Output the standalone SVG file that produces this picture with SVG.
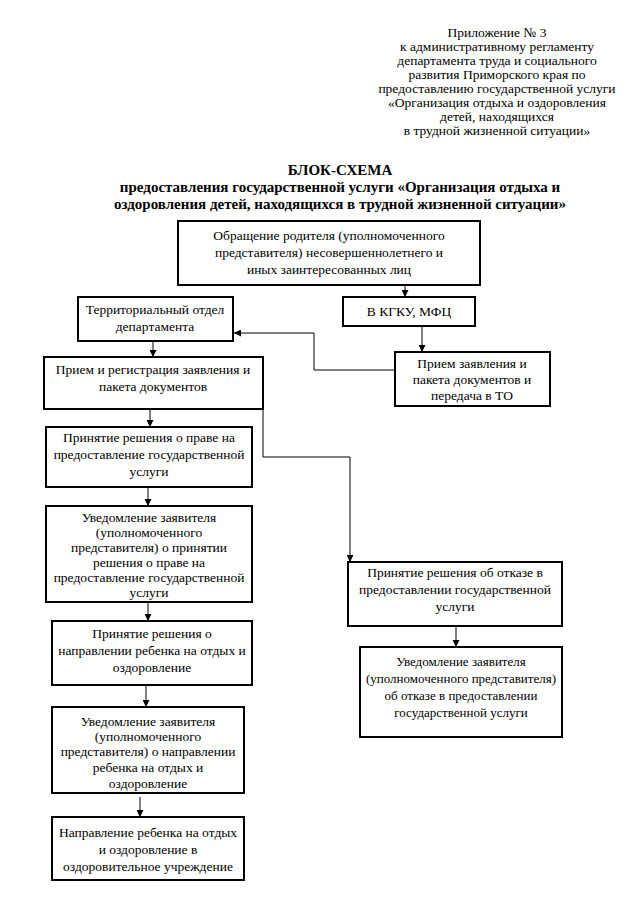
<svg xmlns="http://www.w3.org/2000/svg" width="640" height="905" viewBox="0 0 640 905">
<defs>
<style>
text{fill:#000;text-anchor:middle}
.h{font-size:13.5px}
.t{font-size:15px;font-weight:bold}
.b{font-size:13.5px}
.s{font-size:13px}
.box{fill:#fff;stroke:#000;stroke-width:2}
.c{fill:none;stroke:#000;stroke-width:1}
</style>
<marker id="ar" viewBox="0 0 10 10" refX="10" refY="5" markerWidth="7" markerHeight="7" markerUnits="userSpaceOnUse" orient="auto"><path d="M0,0 L10,5 L0,10 z" fill="#000"/></marker>
</defs>
<rect width="640" height="905" fill="#fff"/>
<g font-family="Liberation Serif, DejaVu Serif, serif">
<g id="header">
<text class="h" x="497" y="37">Приложение № 3</text>
<text class="h" x="497" y="51">к административному регламенту</text>
<text class="h" x="497" y="65">департамента труда и социального</text>
<text class="h" x="497" y="79">развития Приморского края по</text>
<text class="h" x="497" y="93">предоставлению государственной услуги</text>
<text class="h" x="497" y="107">«Организация отдыха и оздоровления</text>
<text class="h" x="497" y="121">детей, находящихся</text>
<text class="h" x="497" y="135">в трудной жизненной ситуации»</text>
</g>
<g id="title">
<text class="t" x="340" y="175">БЛОК-СХЕМА</text>
<text class="t" x="340" y="192">предоставления государственной услуги «Организация отдыха и</text>
<text class="t" x="340" y="209">оздоровления детей, находящихся в трудной жизненной ситуации»</text>
</g>
<g id="connectors">
<line class="c" x1="405" y1="286" x2="405" y2="297" marker-end="url(#ar)"/>
<line class="c" x1="422" y1="327" x2="422" y2="352" marker-end="url(#ar)"/>
<polyline class="c" points="395,370 314,370 314,333 234,333" marker-end="url(#ar)"/>
<line class="c" x1="153" y1="342" x2="153" y2="357" marker-end="url(#ar)"/>
<line class="c" x1="150" y1="409" x2="150" y2="427" marker-end="url(#ar)"/>
<polyline class="c" points="263,409 263,457 350,457 350,562" marker-end="url(#ar)"/>
<line class="c" x1="148" y1="487" x2="148" y2="506" marker-end="url(#ar)"/>
<line class="c" x1="148" y1="602" x2="148" y2="621" marker-end="url(#ar)"/>
<line class="c" x1="146" y1="685" x2="146" y2="707" marker-end="url(#ar)"/>
<line class="c" x1="140" y1="797" x2="140" y2="817" marker-end="url(#ar)"/>
<line class="c" x1="456" y1="627" x2="456" y2="647" marker-end="url(#ar)"/>
</g>
<g id="n-top">
<rect class="box" x="178" y="221" width="302" height="64"/>
<text class="b" x="329" y="240">Обращение родителя (уполномоченного</text>
<text class="b" x="329" y="257">представителя) несовершеннолетнего и</text>
<text class="b" x="329" y="274">иных заинтересованных лиц</text>
</g>
<g id="n-kgku">
<rect class="box" x="343" y="297" width="132" height="29"/>
<text class="b" x="409" y="316">В КГКУ, МФЦ</text>
</g>
<g id="n-to">
<rect class="box" x="78" y="297" width="155" height="44"/>
<text class="b" x="155" y="314">Территориальный отдел</text>
<text class="b" x="155" y="331">департамента</text>
</g>
<g id="n-receive">
<rect class="box" x="395" y="352" width="155" height="54"/>
<text class="b" x="472" y="368">Прием заявления и</text>
<text class="b" x="472" y="384">пакета документов  и</text>
<text class="b" x="472" y="400">передача в ТО</text>
</g>
<g id="n-reg">
<rect class="box" x="44" y="357" width="219" height="52"/>
<text class="b" x="153" y="374">Прием и регистрация заявления и</text>
<text class="b" x="153" y="391">пакета документов</text>
</g>
<g id="n-decision">
<rect class="box" x="46" y="427" width="206" height="60"/>
<text class="b" x="149" y="442">Принятие решения о праве на</text>
<text class="b" x="149" y="459">предоставление государственной</text>
<text class="b" x="149" y="476">услуги</text>
</g>
<g id="n-notify">
<rect class="box" x="46" y="506" width="206" height="96"/>
<text class="b" x="149" y="522">Уведомление заявителя</text>
<text class="b" x="149" y="537">(уполномоченного</text>
<text class="b" x="149" y="552">представителя) о принятии</text>
<text class="b" x="149" y="567">решения о праве на</text>
<text class="b" x="149" y="582">предоставление государственной</text>
<text class="b" x="149" y="597">услуги</text>
</g>
<g id="n-direction">
<rect class="box" x="52" y="621" width="200" height="64"/>
<text class="b" x="152" y="638">Принятие решения о</text>
<text class="b" x="152" y="655">направлении ребенка на отдых и</text>
<text class="b" x="152" y="672">оздоровление</text>
</g>
<g id="n-notify-direction">
<rect class="box" x="52" y="707" width="192" height="86"/>
<text class="b" x="148" y="726">Уведомление заявителя</text>
<text class="b" x="148" y="741">(уполномоченного</text>
<text class="b" x="148" y="756">представителя)  о направлении</text>
<text class="b" x="148" y="772">ребенка на отдых и</text>
<text class="b" x="148" y="788">оздоровление</text>
</g>
<g id="n-final">
<rect class="box" x="52" y="817" width="192" height="63"/>
<text class="b" x="148" y="837">Направление ребенка на отдых</text>
<text class="b" x="148" y="854">и оздоровление в</text>
<text class="b" x="148" y="871">оздоровительное учреждение</text>
</g>
<g id="n-refusal">
<rect class="box" x="348" y="562" width="214" height="64"/>
<text class="b" x="455" y="577">Принятие решения об отказе в</text>
<text class="b" x="455" y="594">предоставлении государственной</text>
<text class="b" x="455" y="611">услуги</text>
</g>
<g id="n-notify-refusal">
<rect class="box" x="360" y="647" width="202" height="90"/>
<text class="s" x="461" y="666">Уведомление заявителя</text>
<text class="s" x="461" y="683">(уполномоченного представителя)</text>
<text class="s" x="461" y="700">об отказе в предоставлении</text>
<text class="s" x="461" y="717">государственной услуги</text>
</g>
</g>
</svg>
